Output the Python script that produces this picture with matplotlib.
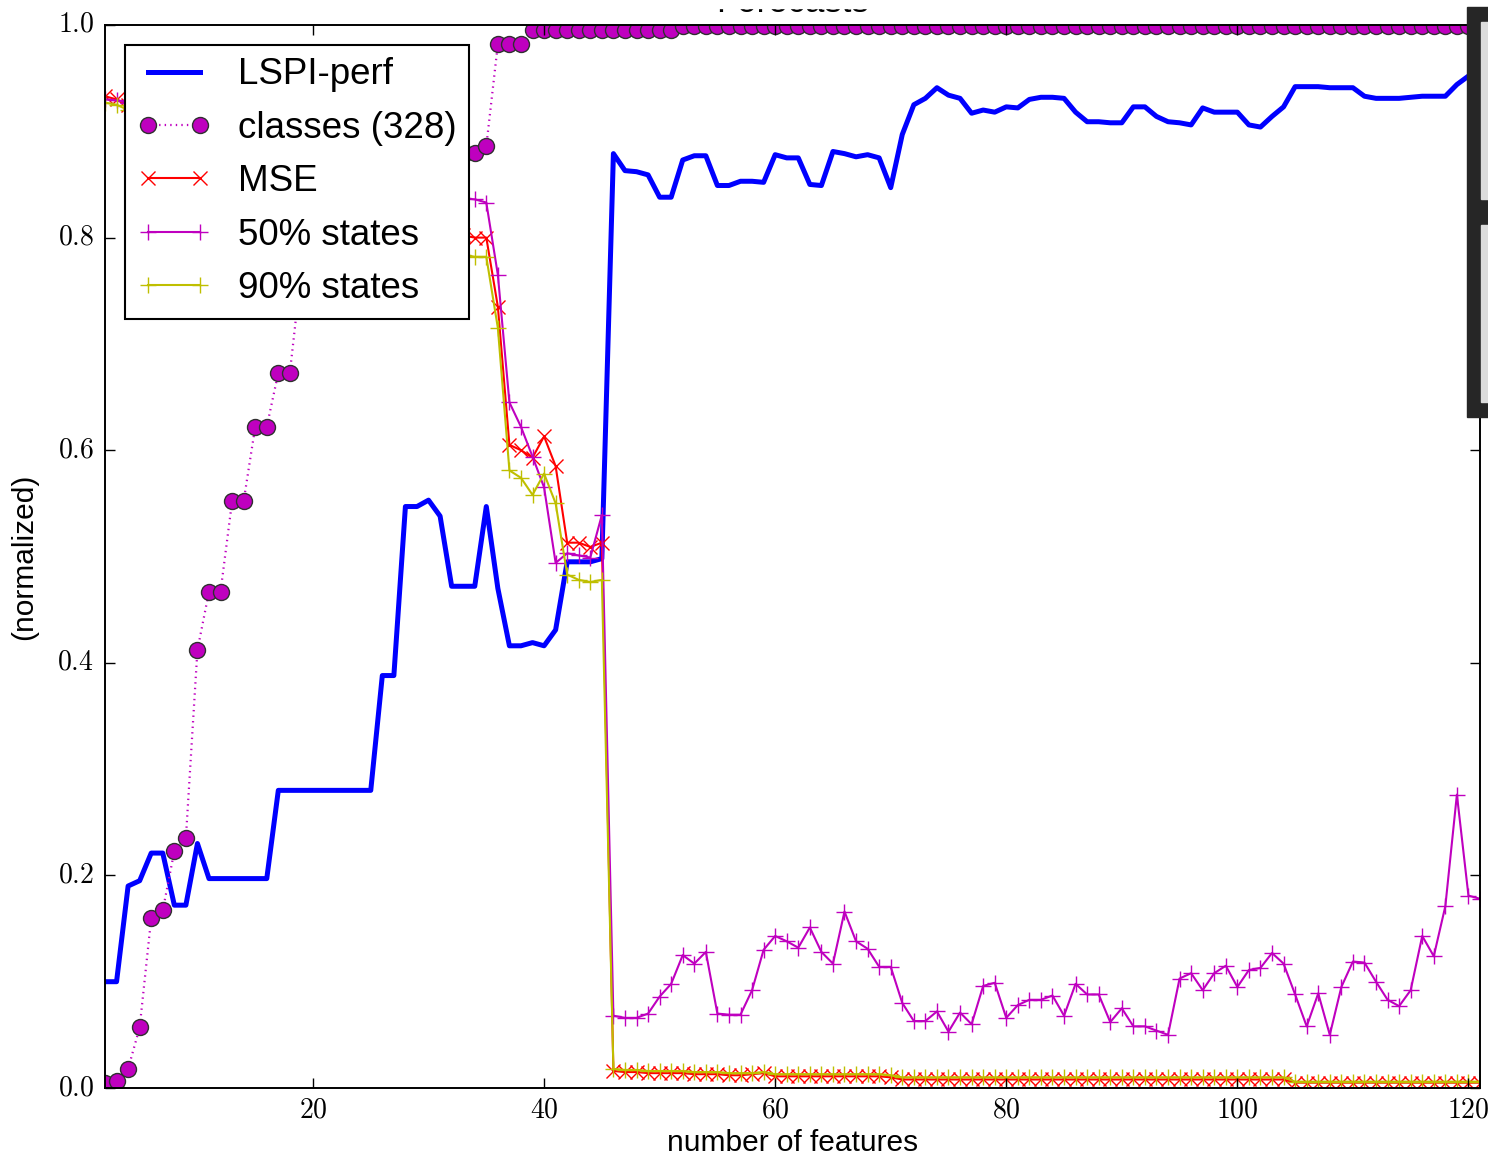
import numpy as np
import matplotlib
matplotlib.use('Agg')
import matplotlib.pyplot as plt
from matplotlib.patches import Rectangle
from matplotlib.ticker import FuncFormatter

plt.style.use('classic')
plt.rcParams['font.family'] = ['Liberation Sans', 'DejaVu Sans']
plt.rcParams['mathtext.fontset'] = 'cm'

# number of features on the x axis
n_features = np.arange(2, 122)

lspi_perf = [
    0.100, 0.100, 0.190, 0.195, 0.221, 0.221, 0.172, 0.172, 0.230, 0.197,
    0.197, 0.197, 0.197, 0.197, 0.197, 0.280, 0.280, 0.280, 0.280, 0.280,
    0.280, 0.280, 0.280, 0.280, 0.388, 0.388, 0.547, 0.547, 0.553, 0.538,
    0.472, 0.472, 0.472, 0.547, 0.470, 0.416, 0.416, 0.419, 0.416, 0.431,
    0.495, 0.495, 0.495, 0.498, 0.879, 0.863, 0.862, 0.859, 0.838, 0.838,
    0.873, 0.877, 0.877, 0.849, 0.849, 0.853, 0.853, 0.852, 0.878, 0.875,
    0.875, 0.850, 0.849, 0.881, 0.879, 0.876, 0.878, 0.875, 0.847, 0.897,
    0.925, 0.931, 0.941, 0.934, 0.931, 0.917, 0.920, 0.918, 0.923, 0.922,
    0.930, 0.932, 0.932, 0.931, 0.918, 0.909, 0.909, 0.908, 0.908, 0.923,
    0.923, 0.914, 0.909, 0.908, 0.906, 0.922, 0.918, 0.918, 0.918, 0.906,
    0.904, 0.914, 0.923, 0.942, 0.942, 0.942, 0.941, 0.941, 0.941, 0.933,
    0.931, 0.931, 0.931, 0.932, 0.933, 0.933, 0.933, 0.944, 0.952, 0.960,
]

classes = [
    0.005, 0.007, 0.018, 0.057, 0.160, 0.167, 0.223, 0.235, 0.412, 0.467,
    0.467, 0.552, 0.552, 0.622, 0.622, 0.673, 0.673, 0.770, 0.770, 0.800,
    0.800, 0.830, 0.830, 0.850, 0.850, 0.860, 0.860, 0.870, 0.870, 0.875,
    0.875, 0.878, 0.880, 0.886, 0.982, 0.982, 0.982, 0.995, 0.995, 0.995,
    0.995, 0.995, 0.995, 0.995, 0.995, 0.995, 0.995, 0.995, 0.995, 0.995,
    0.999, 0.999, 0.999, 0.999, 0.999, 0.999, 0.999, 0.999, 0.999, 0.999,
    0.999, 0.999, 0.999, 0.999, 0.999, 0.999, 0.999, 0.999, 0.999, 0.999,
    0.999, 0.999, 0.999, 0.999, 0.999, 0.999, 0.999, 0.999, 0.999, 0.999,
    0.999, 0.999, 0.999, 0.999, 0.999, 0.999, 0.999, 0.999, 0.999, 0.999,
    0.999, 0.999, 0.999, 0.999, 0.999, 0.999, 0.999, 0.999, 0.999, 0.999,
    0.999, 0.999, 0.999, 0.999, 0.999, 0.999, 0.999, 0.999, 0.999, 0.999,
    0.999, 0.999, 0.999, 0.999, 0.999, 0.999, 0.999, 0.999, 0.999, 0.999,
]

mse = [
    0.933, 0.930, 0.925, 0.920, 0.915, 0.910, 0.905, 0.900, 0.895, 0.890,
    0.885, 0.880, 0.875, 0.870, 0.865, 0.860, 0.855, 0.850, 0.845, 0.840,
    0.836, 0.832, 0.828, 0.824, 0.820, 0.816, 0.812, 0.810, 0.808, 0.806,
    0.804, 0.802, 0.800, 0.800, 0.735, 0.605, 0.600, 0.593, 0.613, 0.585,
    0.513, 0.513, 0.509, 0.513, 0.016, 0.015, 0.015, 0.014, 0.014, 0.014,
    0.014, 0.013, 0.013, 0.013, 0.012, 0.012, 0.013, 0.014, 0.011, 0.011,
    0.011, 0.011, 0.011, 0.011, 0.011, 0.011, 0.011, 0.011, 0.010, 0.008,
    0.008, 0.008, 0.008, 0.008, 0.008, 0.008, 0.008, 0.008, 0.008, 0.008,
    0.008, 0.008, 0.008, 0.008, 0.008, 0.008, 0.008, 0.008, 0.008, 0.008,
    0.008, 0.008, 0.008, 0.008, 0.008, 0.008, 0.008, 0.008, 0.008, 0.008,
    0.008, 0.008, 0.008, 0.005, 0.005, 0.005, 0.005, 0.005, 0.005, 0.005,
    0.005, 0.005, 0.005, 0.005, 0.005, 0.005, 0.005, 0.005, 0.005, 0.005,
]

states_50 = [
    0.930, 0.929, 0.927, 0.924, 0.920, 0.917, 0.914, 0.910, 0.906, 0.902,
    0.898, 0.895, 0.892, 0.889, 0.886, 0.883, 0.880, 0.877, 0.874, 0.871,
    0.868, 0.865, 0.862, 0.859, 0.856, 0.853, 0.850, 0.847, 0.844, 0.841,
    0.839, 0.837, 0.836, 0.833, 0.765, 0.645, 0.622, 0.594, 0.565, 0.494,
    0.503, 0.501, 0.499, 0.539, 0.068, 0.066, 0.066, 0.070, 0.086, 0.098,
    0.125, 0.117, 0.128, 0.070, 0.069, 0.069, 0.092, 0.130, 0.143, 0.138,
    0.132, 0.151, 0.128, 0.117, 0.166, 0.138, 0.131, 0.114, 0.114, 0.080,
    0.063, 0.063, 0.072, 0.053, 0.071, 0.060, 0.096, 0.099, 0.066, 0.078,
    0.083, 0.083, 0.087, 0.068, 0.098, 0.088, 0.088, 0.062, 0.075, 0.058,
    0.058, 0.054, 0.050, 0.103, 0.108, 0.092, 0.108, 0.115, 0.095, 0.111,
    0.113, 0.127, 0.117, 0.088, 0.058, 0.089, 0.050, 0.095, 0.119, 0.118,
    0.100, 0.083, 0.077, 0.092, 0.143, 0.124, 0.171, 0.276, 0.181, 0.178,
]

states_90 = [
    0.927, 0.925, 0.920, 0.915, 0.910, 0.905, 0.900, 0.895, 0.890, 0.885,
    0.880, 0.875, 0.870, 0.865, 0.860, 0.855, 0.850, 0.845, 0.840, 0.835,
    0.830, 0.825, 0.820, 0.815, 0.810, 0.805, 0.800, 0.796, 0.792, 0.789,
    0.786, 0.784, 0.782, 0.782, 0.715, 0.581, 0.574, 0.558, 0.578, 0.550,
    0.483, 0.478, 0.476, 0.478, 0.018, 0.017, 0.017, 0.016, 0.016, 0.016,
    0.016, 0.015, 0.015, 0.015, 0.014, 0.014, 0.014, 0.015, 0.013, 0.013,
    0.013, 0.013, 0.013, 0.013, 0.013, 0.013, 0.013, 0.013, 0.012, 0.010,
    0.010, 0.010, 0.010, 0.010, 0.010, 0.010, 0.010, 0.010, 0.010, 0.010,
    0.010, 0.010, 0.010, 0.010, 0.010, 0.010, 0.010, 0.010, 0.010, 0.010,
    0.010, 0.010, 0.010, 0.010, 0.010, 0.010, 0.010, 0.010, 0.010, 0.010,
    0.010, 0.010, 0.010, 0.006, 0.006, 0.006, 0.006, 0.006, 0.006, 0.006,
    0.006, 0.006, 0.006, 0.006, 0.006, 0.006, 0.006, 0.006, 0.006, 0.006,
]

W, H = 1488, 1157
fig = plt.figure(figsize=(W / 100, H / 100), dpi=100, facecolor='white')
ax = fig.add_axes([105 / W, 1 - 1088 / H, (1480 - 105) / W, (1088 - 25) / H])

ax.plot(n_features, lspi_perf, 'b-', lw=3.6, label='LSPI-perf')
ax.plot(n_features, classes, color='m', ls=(0, (1, 3)), lw=1.6, marker='o', ms=11.5,
        mfc='m', mec='#303030', mew=1.0, label='classes (328)')
ax.plot(n_features, mse, 'r-', lw=1.5, marker='x', ms=10, mew=1.0, label='MSE')
ax.plot(n_features, states_50, 'm-', lw=1.5, marker='+', ms=12, mew=1.0, label='50% states')
ax.plot(n_features, states_90, 'y-', lw=1.5, marker='+', ms=12, mew=1.0, label='90% states')

ax.set_xlim(2, 121)
ax.set_ylim(0, 1)
ax.set_xticks([20, 40, 60, 80, 100, 120])
ax.set_yticks([0.0, 0.2, 0.4, 0.6, 0.8, 1.0])
ax.xaxis.set_major_formatter(FuncFormatter(lambda v, p: r'$%d$' % v))
ax.yaxis.set_major_formatter(FuncFormatter(lambda v, p: r'$%.1f$' % v))
ax.tick_params(which='major', direction='in', length=7, width=1, labelsize=20, pad=8)
ax.tick_params(axis='x', pad=7)
for sp in ax.spines.values():
    sp.set_linewidth(1.4)

ax.set_xlabel('number of features', fontsize=21.5, labelpad=4)
ax.set_ylabel('(normalized)', fontsize=21.5, labelpad=14)
# title sits mostly above the captured area, as in the source screenshot
ax.set_title('Forecasts', fontsize=25, pad=9)

leg = ax.legend(loc='upper left', fontsize=26.5, handlelength=2.0, handletextpad=0.72,
                labelspacing=0.5, borderpad=0.35, borderaxespad=0.53, numpoints=2)
leg.get_frame().set_linewidth(1.5)
leg.get_frame().set_edgecolor('black')

# screen-capture leftovers: white band on top, dark panel on the right edge
fig.add_artist(Rectangle((0, 1 - 8 / H), 1, 8 / H, transform=fig.transFigure,
                         color='white', zorder=20))
fig.add_artist(Rectangle((1467 / W, 1 - 417 / H), 30 / W, 410 / H, transform=fig.transFigure,
                         color='#262626', zorder=21))
fig.add_artist(Rectangle((1481 / W, 1 - 199 / H), 20 / W, 177 / H, transform=fig.transFigure,
                         color='#dcdcdc', zorder=22))
fig.add_artist(Rectangle((1481 / W, 1 - 402 / H), 20 / W, 177 / H, transform=fig.transFigure,
                         color='#dcdcdc', zorder=22))

fig.savefig('out.png', dpi=100, facecolor='white')
